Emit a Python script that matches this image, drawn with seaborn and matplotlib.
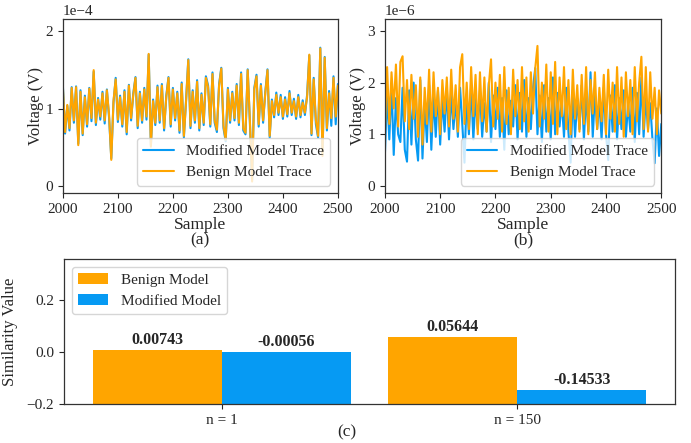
import numpy as np
import pandas as pd
import seaborn as sns
from matplotlib import pyplot as plt

# ---- data ----
samples = list(range(2000, 2501, 4))

# (a) voltage traces, units of 1e-4 V
trace_a_benign = [1.28, 0.70, 1.05, 0.75, 1.27, 0.85, 1.28, 0.53, 1.22, 0.68,
                  1.15, 0.80, 1.26, 0.88, 1.50, 0.82, 1.12, 0.90, 1.20, 0.85,
                  1.24, 0.92, 0.34, 1.10, 1.38, 0.86, 1.15, 0.80, 1.22, 0.70,
                  1.30, 0.88, 1.18, 1.40, 0.78, 1.20, 0.85, 1.25, 0.90, 1.71,
                  0.51, 1.10, 0.82, 1.28, 0.85, 1.30, 0.75, 1.15, 1.40, 0.80,
                  1.25, 0.88, 1.20, 0.72, 1.32, 0.65, 1.10, 1.63, 0.78, 1.22,
                  0.85, 1.35, 0.75, 1.18, 0.82, 1.40, 1.28, 0.80, 1.45, 0.85,
                  0.73, 1.30, 1.52, 0.78, 0.60, 1.25, 0.85, 1.20, 0.88, 1.30,
                  0.82, 1.45, 0.75, 0.69, 1.50, 0.85, 0.06, 1.25, 1.42, 0.80,
                  1.30, 0.85, 1.20, 1.50, 0.65, 1.10, 0.92, 1.18, 0.95, 1.15,
                  0.90, 1.12, 0.93, 1.20, 0.95, 1.10, 0.90, 1.15, 0.92, 1.08,
                  0.95, 1.15, 1.70, 0.68, 1.38, 0.85, 0.65, 1.78, 0.39, 1.66,
                  0.75, 1.20, 0.88, 1.40, 0.90, 1.30]
trace_a_modified = [1.30, 0.68, 1.04, 0.72, 1.28, 0.82, 1.29, 0.55, 1.24, 0.66,
                    1.17, 0.77, 1.27, 0.84, 1.48, 0.79, 1.14, 0.86, 1.22, 0.81,
                    1.25, 0.88, 0.36, 1.08, 1.40, 0.83, 1.17, 0.77, 1.24, 0.67,
                    1.31, 0.85, 1.20, 1.41, 0.75, 1.22, 0.82, 1.27, 0.86, 1.70,
                    0.53, 1.12, 0.79, 1.30, 0.82, 1.32, 0.72, 1.17, 1.41, 0.77,
                    1.27, 0.85, 1.22, 0.69, 1.34, 0.63, 1.12, 1.64, 0.75, 1.24,
                    0.82, 1.37, 0.72, 1.20, 0.79, 1.42, 1.30, 0.77, 1.47, 0.82,
                    0.70, 1.32, 1.53, 0.75, 0.58, 1.27, 0.82, 1.22, 0.85, 1.32,
                    0.79, 1.47, 0.72, 0.67, 1.51, 0.82, 0.08, 1.27, 1.44, 0.77,
                    1.32, 0.82, 1.22, 1.51, 0.63, 1.12, 0.89, 1.21, 0.92, 1.18,
                    0.87, 1.15, 0.90, 1.23, 0.92, 1.13, 0.87, 1.18, 0.89, 1.11,
                    0.92, 1.18, 1.69, 0.66, 1.40, 0.80, 0.63, 1.79, 0.41, 1.67,
                    0.72, 1.23, 0.78, 1.42, 0.80, 1.32]

# (b) voltage traces, units of 1e-6 V
trace_b_benign = [1.05, 2.30, 1.20, 2.20, 1.50, 2.35, 1.15, 2.40, 2.51, 1.25,
                  2.05, 1.10, 2.15, 1.30, 1.95, 0.95, 2.10, 0.80, 1.90, 1.20,
                  2.25, 1.05, 2.20, 1.35, 1.90, 1.00, 2.05, 1.40, 2.10, 1.15,
                  2.25, 1.30, 1.95, 1.05, 2.30, 2.55, 1.20, 2.00, 1.10, 2.30,
                  1.35, 2.15, 1.00, 2.20, 1.25, 2.10, 1.05, 1.95, 2.45, 1.15,
                  2.00, 1.30, 2.15, 1.05, 2.30, 1.20, 1.90, 1.00, 2.25, 1.35,
                  2.05, 1.10, 2.30, 1.25, 2.10, 1.05, 2.20, 1.40, 2.28, 2.71,
                  1.15, 2.00, 1.30, 2.35, 1.05, 2.20, 1.20, 2.40, 1.00, 2.10,
                  1.35, 2.30, 1.10, 2.05, 1.00, 2.25, 1.30, 1.95, 1.05, 2.15,
                  1.20, 2.30, 1.00, 2.05, 1.40, 2.20, 1.10, 1.90, 1.25, 2.15,
                  1.00, 2.25, 1.30, 2.00, 1.05, 2.30, 1.20, 2.10, 0.95, 2.20,
                  1.35, 2.05, 1.00, 2.30, 1.25, 2.00, 2.50, 1.10, 2.30, 1.05,
                  2.20, 1.30, 1.90, 1.00, 1.85, 1.40]
trace_b_modified = [0.60, 1.80, 0.90, 1.95, 0.60, 1.70, 1.00, 0.85, 1.90, 0.70,
                    0.47, 1.85, 0.80, 2.00, 0.90, 0.49, 2.05, 0.53, 1.60, 0.85,
                    1.95, 0.70, 1.75, 0.95, 1.85, 0.80, 1.70, 1.05, 1.90, 0.90,
                    1.80, 1.10, 1.65, 0.95, 1.90, 1.20, 0.45, 1.75, 1.00, 1.95,
                    0.90, 1.70, 1.10, 1.85, 0.95, 1.60, 1.05, 2.00, 0.85, 1.75,
                    1.10, 1.90, 0.95, 1.70, 0.70, 1.85, 1.00, 1.65, 1.15, 1.95,
                    0.90, 1.80, 1.05, 2.05, 0.95, 1.70, 1.10, 1.90, 2.28, 1.00,
                    1.75, 0.85, 1.95, 1.05, 1.70, 0.90, 2.10, 1.00, 1.80, 1.15,
                    1.65, 0.95, 1.90, 1.05, 0.45, 1.85, 0.95, 1.70, 1.10, 1.95,
                    0.90, 1.75, 1.05, 2.20, 0.95, 1.80, 1.10, 1.65, 0.90, 1.90,
                    1.00, 0.50, 1.75, 1.05, 1.95, 0.90, 1.70, 1.10, 1.85, 0.95,
                    1.60, 1.05, 1.90, 0.85, 1.80, 1.00, 2.10, 0.95, 1.70, 1.10,
                    1.60, 0.90, 0.44, 1.50, 0.58, 1.20]

# (c) similarity values
groups = ["n = 1", "n = 150"]
models = ["Benign Model", "Modified Model"]
benign_sim = [0.00743, 0.05644]
modified_sim = [-0.00056, -0.14533]

orange = "#ffa500"
blue = "#069af3"

sns.set_style("ticks")
plt.rcParams['font.family'] = ['Liberation Serif', 'DejaVu Serif']

fig = plt.figure(figsize=(6.91, 4.43), dpi=100)
ax_a = fig.add_axes([0.091, 0.564, 0.398, 0.393])
ax_b = fig.add_axes([0.557, 0.564, 0.400, 0.393])
ax_c = fig.add_axes([0.0926, 0.088, 0.8842, 0.327])


def trace_panel(ax, modified, benign, scale, ylim, yticks):
    sns.lineplot(x=samples, y=np.array(modified) * scale, ax=ax, color=blue,
                 linewidth=1.5, label="Modified Model Trace")
    sns.lineplot(x=samples, y=np.array(benign) * scale, ax=ax, color=orange,
                 linewidth=1.5, label="Benign Model Trace")
    ax.set_xlim(2000, 2500)
    ax.set_ylim(ylim[0] * scale, ylim[1] * scale)
    ax.set_yticks([t * scale for t in yticks])
    ax.ticklabel_format(axis='y', style='sci', scilimits=(0, 0))
    ax.yaxis.get_offset_text().set_fontsize(11)
    ax.tick_params(labelsize=11)
    ax.set_xlabel("Sample", fontsize=12.5, labelpad=1)
    ax.set_ylabel("Voltage (V)", fontsize=12, labelpad=1)
    ax.legend(loc="lower right", fontsize=11)


trace_panel(ax_a, trace_a_modified, trace_a_benign, 1e-4, (-0.09, 2.16), [0, 1, 2])
trace_panel(ax_b, trace_b_modified, trace_b_benign, 1e-6, (-0.14, 3.23), [0, 1, 2, 3])

# bar panel, bars start at the bottom of the axis
y_floor = -0.2
df = pd.DataFrame({
    "group": groups * 2,
    "model": [models[0]] * len(groups) + [models[1]] * len(groups),
    "value": benign_sim + modified_sim,
})
df["height"] = df["value"] - y_floor

sns.barplot(data=df, x="group", y="height", hue="model", palette=[orange, blue],
            width=0.873, saturation=1, errorbar=None, bottom=y_floor,
            linewidth=0, legend=False, ax=ax_c)
for cont, vals in zip(ax_c.containers, [benign_sim, modified_sim]):
    for bar, v in zip(cont, vals):
        ax_c.text(bar.get_x() + bar.get_width() / 2, v + 0.008, f"{v:.5f}",
                  ha="center", va="bottom", fontsize=11.5, fontweight="bold")
ax_c.set_ylim(y_floor, 0.355)
ax_c.set_xlim(-0.533, 1.533)
ax_c.set_yticks([-0.2, 0.0, 0.2])
ax_c.tick_params(labelsize=11)
ax_c.set_xlabel("")
ax_c.set_ylabel("Similarity Value", fontsize=12)
ax_c.yaxis.set_label_coords(-0.075, 0.5)
ax_c.legend([c.patches[0] for c in ax_c.containers], models, loc="upper left",
            fontsize=11, frameon=True)

for ax in (ax_a, ax_b, ax_c):
    for sp in ax.spines.values():
        sp.set_linewidth(0.9)
        sp.set_color("0.2")

fig.text(0.289, 0.458, "(a)", ha="center", va="center", fontsize=12.5)
fig.text(0.757, 0.458, "(b)", ha="center", va="center", fontsize=12.5)
fig.text(0.502, 0.025, "(c)", ha="center", va="center", fontsize=12.5)

fig.savefig("out.png", dpi=100)
